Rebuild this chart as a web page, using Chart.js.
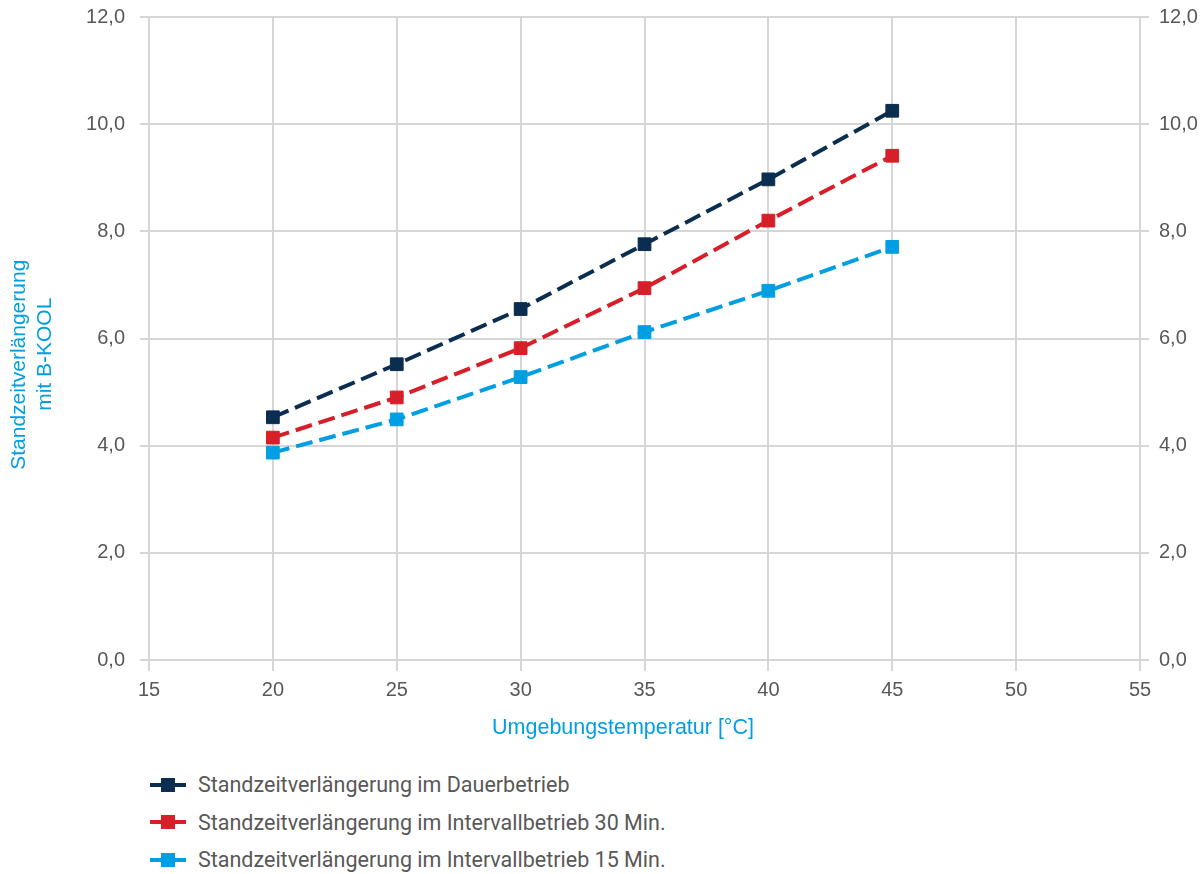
<!DOCTYPE html>
<html lang="de">
<head>
    <meta charset="UTF-8">
    <title>Standzeitverlängerung mit B-KOOL</title>
    <script src="https://cdn.jsdelivr.net/npm/chart.js@4.4.1/dist/chart.umd.min.js"></script>
    <style>
        * {
            margin: 0;
            padding: 0;
            box-sizing: border-box;
        }

        body {
            width: 1204px;
            height: 874px;
            background: #fff;
            font-family: Roboto, 'Noto Sans', sans-serif;
            overflow: hidden;
        }

        .chart-wrap {
            position: relative;
            width: 1204px;
            height: 760px;
        }

        /* Legend below the chart */
        .legend {
            position: absolute;
            left: 150px;
            top: 766px;
        }

        .legend-item {
            display: flex;
            align-items: center;
            height: 37.5px;
            color: #585858;
            font-size: 21.5px;
        }

        .legend-icon {
            position: relative;
            width: 36px;
            height: 14px;
            margin-right: 12px;
        }

        .legend-icon .bar {
            position: absolute;
            left: 0;
            top: 5px;
            width: 36px;
            height: 4px;
        }

        .legend-icon .sq {
            position: absolute;
            left: 11px;
            top: 0;
            width: 14px;
            height: 14px;
        }
    </style>
</head>
<body>
    <div class="chart-wrap">
        <canvas id="chart"></canvas>
    </div>
    <div class="legend" id="legend"></div>

    <script>
        // Data
        const temps = [20, 25, 30, 35, 40, 45];
        const dauer = [4.53, 5.52, 6.55, 7.76, 8.97, 10.25];
        const intervall30 = [4.15, 4.90, 5.82, 6.94, 8.20, 9.41];
        const intervall15 = [3.87, 4.49, 5.28, 6.12, 6.89, 7.71];

        const seriesNames = [
            'Standzeitverlängerung im Dauerbetrieb',
            'Standzeitverlängerung im Intervallbetrieb 30 Min.',
            'Standzeitverlängerung im Intervallbetrieb 15 Min.'
        ];
        const colors = ['#0b2d4f', '#d71f2a', '#009fe3'];

        const xTicks = [15, 20, 25, 30, 35, 40, 45, 50, 55];
        const yTicks = [0, 2, 4, 6, 8, 10, 12];

        const textGray = '#585858';
        const gridGray = '#d6d6d6';
        const titleBlue = '#009fe3';

        function toPoints(values) {
            return values.map((v, i) => ({ x: temps[i], y: v }));
        }

        const datasets = [dauer, intervall30, intervall15].map((vals, i) => ({
            label: seriesNames[i],
            data: toPoints(vals),
            borderColor: colors[i],
            backgroundColor: colors[i],
            borderWidth: 4,
            borderDash: [17, 7],
            pointStyle: 'rect',
            pointRadius: 9,
            pointHoverRadius: 9,
            pointBorderWidth: 1,
            tension: 0
        }));

        const fmt = v => v.toFixed(1).replace('.', ',');

        // left and right value axes share the same setup
        const yScale = (position, boxWidth, pad) => ({
            type: 'linear',
            position: position,
            min: 0,
            max: 12,
            afterBuildTicks: axis => {
                axis.ticks = yTicks.map(v => ({ value: v }));
            },
            afterFit: axis => {
                axis.width = boxWidth;
                axis.paddingTop = 0;
                axis.paddingBottom = 0;
            },
            border: { display: true, color: gridGray, width: 2 },
            grid: {
                color: gridGray,
                lineWidth: 2,
                tickLength: 9,
                drawOnChartArea: position === 'left'
            },
            ticks: {
                color: textGray,
                font: { size: 20 },
                padding: pad,
                callback: v => fmt(v)
            }
        });

        // titles sit a little off centre in the original, the trailing em/en spaces nudge them
        const chart = new Chart(document.getElementById('chart'), {
            type: 'line',
            data: { datasets: datasets },
            options: {
                responsive: true,
                maintainAspectRatio: false,
                animation: false,
                layout: {
                    padding: { top: 17, right: 0, left: 0, bottom: 0 }
                },
                plugins: {
                    legend: { display: false },
                    tooltip: { enabled: false }
                },
                scales: {
                    x: {
                        type: 'linear',
                        min: 15,
                        max: 55,
                        afterBuildTicks: axis => {
                            axis.ticks = xTicks.map(v => ({ value: v }));
                        },
                        afterFit: axis => {
                            axis.height = 100;
                            axis.paddingLeft = 0;
                            axis.paddingRight = 0;
                        },
                        border: { display: true, color: gridGray, width: 2 },
                        grid: {
                            color: gridGray,
                            lineWidth: 2,
                            tickLength: 11
                        },
                        ticks: {
                            color: textGray,
                            font: { size: 20 },
                            padding: 7
                        },
                        title: {
                            display: true,
                            text: 'Umgebungstemperatur [°C]\u2003\u2003',
                            color: titleBlue,
                            font: { size: 21.5 },
                            padding: { top: 0, bottom: 19 }
                        }
                    },
                    y: Object.assign(yScale('left', 149, 15), {
                        title: {
                            display: true,
                            text: ['Standzeitverlängerung\u2003\u2003\u2002', 'mit B-KOOL\u2003\u2002'],
                            color: titleBlue,
                            font: { size: 21, lineHeight: 1.2 },
                            padding: { top: 7, bottom: 0 }
                        }
                    }),
                    y2: yScale('right', 64, 10)
                }
            }
        });

        // Build the legend from the datasets
        const legend = document.getElementById('legend');
        datasets.forEach(ds => {
            const item = document.createElement('div');
            item.className = 'legend-item';
            item.innerHTML = `
                <div class="legend-icon">
                    <div class="bar" style="background:${ds.borderColor}"></div>
                    <div class="sq" style="background:${ds.borderColor}"></div>
                </div>
                <span>${ds.label}</span>
            `;
            legend.appendChild(item);
        });
    </script>
</body>
</html>
